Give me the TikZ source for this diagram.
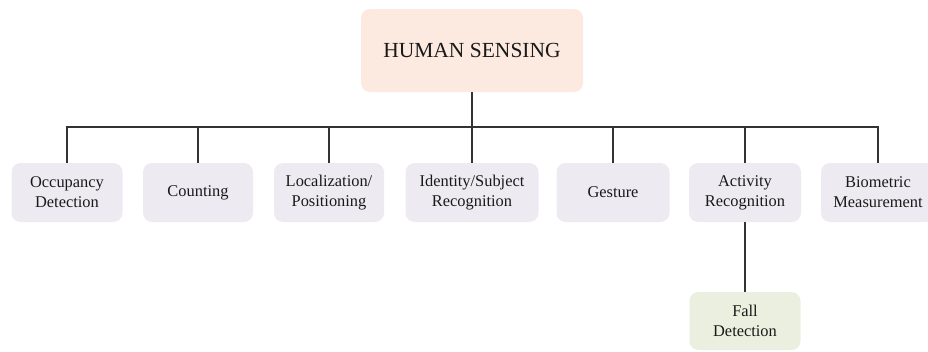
\documentclass[tikz,border=0pt]{standalone}
\usepackage{fontspec}
\setmainfont{Liberation Serif}
\begin{document}
\begin{tikzpicture}[x=1pt,y=-1pt,
  box/.style={rounded corners=9pt, inner sep=0pt, align=center,
    font=\fontsize{16.4}{20}\selectfont, text=black!90},
  rootbox/.style={box, fill=rootfill, minimum width=222pt, minimum height=83pt,
    font=\fontsize{21.5}{24}\selectfont},
  leafbox/.style={box, fill=leaffill, minimum height=59pt},
  subbox/.style={box, fill=subfill, minimum width=111pt, minimum height=58pt},
  link/.style={draw=black!80, line width=1.6pt}]
\definecolor{rootfill}{HTML}{FCE9DF}
\definecolor{leaffill}{HTML}{EDEAF2}
\definecolor{subfill}{HTML}{EAEFDF}
\useasboundingbox (0,0) rectangle (928,351);
\begin{scope}
\clip (0,0) rectangle (928,351);
% root of the tree
\node[rootbox] (root) at (472,50.5) {HUMAN SENSING};
% first level
\node[leafbox, minimum width=111pt] (occ) at (67,192.5) {Occupancy\\Detection};
\node[leafbox, minimum width=110pt] (cnt) at (198,192.5) {Counting};
\node[leafbox, minimum width=110pt] (loc) at (329,192.5) {Localization/\\Positioning};
\node[leafbox, minimum width=133pt] (idn) at (472,192.5) {Identity/Subject\\Recognition};
\node[leafbox, minimum width=113pt] (ges) at (613,192.5) {Gesture};
\node[leafbox, minimum width=112pt] (act) at (745,192.5) {Activity\\Recognition};
\node[leafbox, minimum width=114pt] (bio) at (878,192.5) {Biometric\\Measurement};
% second level
\node[subbox] (fall) at (745,321) {Fall\\Detection};
\end{scope}
% bus connectors
\coordinate (bus) at (472,127);
\draw[link] (root.south) -- (bus);
\draw[link] (occ.north) |- (bus) -| (bio.north);
\foreach \n in {cnt,loc,idn,ges,act}
  \draw[link] (\n.north) -- (\n.north |- bus);
\draw[link] (act.south) -- (fall.north);
\end{tikzpicture}
\end{document}
